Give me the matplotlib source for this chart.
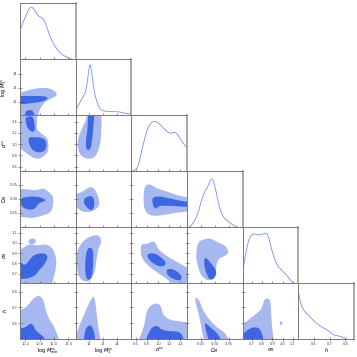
import numpy as np
import matplotlib.pyplot as plt

plt.rcParams['font.family'] = 'DejaVu Sans'
plt.rcParams['mathtext.fontset'] = 'dejavusans'

LIGHT = '#a7b8f0'
DARK = '#3d66e2'
LINE = '#7391f0'

labels = [r'$\log\,M_{\rm min}^{\rm ss}$', r'$\log\,M_1^{\rm ss}$', r'$\alpha^{\rm ss}$',
          r'$\Omega_M$', r'$\sigma_8$', r'$h$']
limits = [(10.05, 11.6), (11.05, 15.05), (0.52, 1.52), (0.20, 0.40), (0.61, 1.155), (0.50, 0.855)]
ticks = [[10.2, 10.6, 11.0, 11.4], [12, 13, 14], [0.6, 0.8, 1.0, 1.2, 1.4],
         [0.25, 0.30, 0.35], [0.7, 0.8, 0.9, 1.0, 1.1], [0.6, 0.7, 0.8]]
tick_text = [['10.2', '10.6', '11.0', '11.4'], ['12', '13', '14'],
             ['0.6', '0.8', '1.0', '1.2', '1.4'], ['0.25', '0.30', '0.35'],
             ['0.7', '0.8', '0.9', '1.0', '1.1'], ['0.6', '0.7', '0.8']]

# 1D marginals (normalised heights)
logmmin_x = [10.05, 10.2, 10.3, 10.38, 10.45, 10.55, 10.65, 10.72, 10.8, 10.9, 11.0, 11.1, 11.2, 11.3, 11.4, 11.5]
logmmin_y = [0.52, 0.75, 0.90, 0.93, 0.88, 0.77, 0.74, 0.70, 0.56, 0.38, 0.25, 0.16, 0.09, 0.05, 0.02, 0.0]
logm1_x = [11.05, 11.12, 11.48, 11.76, 11.91, 12.0, 12.07, 12.15, 12.24, 12.39, 12.67, 12.91, 13.4, 14.0, 14.3, 14.6, 14.9, 15.05]
logm1_y = [0.09, 0.12, 0.28, 0.40, 0.63, 0.82, 0.91, 0.85, 0.69, 0.40, 0.16, 0.08, 0.06, 0.06, 0.05, 0.03, 0.02, 0.02]
alpha_x = [0.52, 0.60, 0.65, 0.70, 0.79, 0.85, 0.94, 1.03, 1.11, 1.22, 1.29, 1.35, 1.44, 1.52]
alpha_y = [0.0, 0.02, 0.10, 0.34, 0.70, 0.84, 0.90, 0.84, 0.75, 0.66, 0.70, 0.66, 0.51, 0.41]
omega_x = [0.205, 0.214, 0.238, 0.256, 0.274, 0.289, 0.30, 0.315, 0.328, 0.345, 0.369, 0.381]
omega_y = [0.0, 0.01, 0.20, 0.56, 0.71, 0.90, 0.74, 0.38, 0.19, 0.11, 0.02, 0.0]
sigma8_x = [0.61, 0.639, 0.671, 0.714, 0.753, 0.792, 0.837, 0.866, 0.899, 0.948, 0.996, 1.045, 1.094, 1.11]
sigma8_y = [0.19, 0.52, 0.79, 0.89, 0.86, 0.86, 0.90, 0.82, 0.55, 0.31, 0.22, 0.13, 0.01, 0.0]
h_x = [0.50, 0.513, 0.534, 0.565, 0.608, 0.65, 0.692, 0.723, 0.766, 0.808]
h_y = [0.86, 0.65, 0.51, 0.42, 0.30, 0.21, 0.15, 0.07, 0.05, 0.0]

# 2D credible regions: outer (95%) and inner (68%) outlines, in data units
logm1_logmmin_95 = [[(9.8, 12.5), (10.105, 12.66), (10.29, 12.84), (10.47, 12.94), (10.75, 13.01),
                     (10.94, 12.89), (11.07, 12.66), (11.07, 12.41), (10.94, 12.25), (10.75, 12.0),
                     (10.66, 11.7), (10.57, 11.3), (10.55, 10.8), (9.8, 10.8)]]
logm1_logmmin_68 = [[(9.8, 12.4), (10.29, 12.41), (10.57, 12.41), (10.80, 12.37), (10.825, 12.18),
                     (10.66, 12.0), (10.38, 11.89), (10.105, 11.82), (9.8, 11.85)],
                    [(10.2, 10.8), (10.2, 11.3), (10.3, 11.42), (10.42, 11.35), (10.47, 10.8)]]
alpha_logmmin_95 = [[(9.8, 1.7), (10.52, 1.7), (10.53, 1.39), (10.50, 1.27), (10.66, 1.18),
                     (10.80, 1.12), (10.84, 1.03), (10.84, 0.88), (10.75, 0.80), (10.57, 0.73),
                     (10.40, 0.76), (10.20, 0.85), (10.05, 0.93), (9.8, 0.95)]]
alpha_logmmin_68 = [[(10.22, 1.49), (10.40, 1.50), (10.45, 1.40), (10.47, 1.27), (10.44, 1.22),
                     (10.33, 1.23), (10.25, 1.30), (10.20, 1.42)],
                    [(10.29, 1.13), (10.47, 1.12), (10.62, 1.12), (10.75, 1.08), (10.80, 1.00),
                     (10.75, 0.88), (10.62, 0.85), (10.47, 0.86), (10.35, 0.93), (10.29, 1.03)]]
omega_logmmin_95 = [[(9.8, 0.336), (10.20, 0.336), (10.47, 0.330), (10.705, 0.339), (10.80, 0.330),
                     (10.94, 0.315), (10.99, 0.30), (10.94, 0.2525), (10.66, 0.240), (10.38, 0.231),
                     (10.20, 0.2345), (9.8, 0.240)]]
omega_logmmin_68 = [[(10.10, 0.306), (10.47, 0.310), (10.705, 0.3025), (10.78, 0.293), (10.57, 0.286),
                     (10.47, 0.264), (10.29, 0.261), (10.12, 0.27), (10.05, 0.288)]]
sigma8_logmmin_95 = [[(9.8, 0.50), (9.8, 0.89), (10.10, 0.941), (10.29, 0.99), (10.57, 0.973),
                      (10.75, 0.99), (10.94, 0.957), (11.03, 0.892), (11.07, 0.811), (11.03, 0.714),
                      (10.94, 0.60), (10.84, 0.50)],
                     [(10.28, 1.02), (10.35, 1.045), (10.47, 1.04), (10.50, 1.01), (10.42, 0.985),
                      (10.30, 0.99)]]
sigma8_logmmin_68 = [[(9.8, 0.82), (10.05, 0.811), (10.20, 0.779), (10.33, 0.844), (10.47, 0.892),
                      (10.75, 0.902), (10.84, 0.86), (10.705, 0.779), (10.57, 0.73), (10.47, 0.681),
                      (10.29, 0.655), (10.10, 0.649), (9.8, 0.66)]]
h_logmmin_95 = [[(9.8, 0.45), (9.8, 0.665), (10.15, 0.69), (10.29, 0.717), (10.38, 0.749), (10.57, 0.78),
                 (10.705, 0.749), (10.75, 0.696), (10.84, 0.633), (11.03, 0.57), (11.2, 0.45)]]
h_logmmin_68 = [[(9.8, 0.45), (9.8, 0.559), (10.20, 0.57), (10.33, 0.601), (10.42, 0.59), (10.47, 0.559),
                 (10.57, 0.538), (10.75, 0.506), (10.82, 0.45)]]
alpha_logm1_95 = [[(11.9, 1.7), (12.9, 1.7), (12.9, 1.09), (12.67, 0.88), (12.43, 0.76), (11.95, 0.73),
                   (11.36, 0.79), (11.12, 1.03), (11.48, 1.27), (11.84, 1.45)]]
alpha_logm1_68 = [[(11.97, 1.7), (12.43, 1.7), (12.31, 1.27), (12.24, 1.09), (12.14, 0.91), (11.84, 0.88),
                   (11.76, 1.03), (11.91, 1.27)]]
omega_logm1_95 = [[(11.05, 0.318), (11.48, 0.324), (12.07, 0.345), (12.43, 0.336), (12.67, 0.31),
                   (12.79, 0.282), (12.55, 0.264), (12.07, 0.2525), (11.48, 0.255), (11.12, 0.27),
                   (10.9, 0.29)]]
omega_logm1_68 = [[(11.72, 0.306), (12.19, 0.312), (12.39, 0.30), (12.39, 0.27), (12.15, 0.258),
                   (11.84, 0.27), (11.6, 0.288)]]
sigma8_logm1_95 = [[(11.48, 1.006), (11.95, 1.055), (12.43, 1.077), (12.79, 1.07), (12.91, 1.006),
                    (12.67, 0.941), (12.55, 0.844), (12.43, 0.714), (12.19, 0.649), (11.84, 0.617),
                    (11.36, 0.649), (11.12, 0.746), (11.12, 0.909)]]
sigma8_logm1_68 = [[(12.0, 0.957), (12.31, 0.941), (12.31, 0.811), (12.24, 0.681), (12.0, 0.632),
                    (11.76, 0.665), (11.72, 0.811), (11.84, 0.924)]]
h_logm1_95 = [[(12.35, 0.775), (12.43, 0.749), (12.55, 0.675), (12.67, 0.57), (12.95, 0.45), (10.9, 0.45),
               (11.05, 0.506), (11.25, 0.57), (11.6, 0.644), (12.07, 0.739)]]
h_logm1_68 = [[(12.0, 0.59), (12.24, 0.58), (12.43, 0.527), (12.45, 0.45), (11.6, 0.45), (11.72, 0.559)]]
omega_alpha_95 = [[(0.758, 0.348), (0.847, 0.354), (0.996, 0.336), (1.115, 0.330), (1.354, 0.312),
                   (1.7, 0.30), (1.7, 0.258), (1.354, 0.2525), (1.115, 0.243), (0.877, 0.238),
                   (0.758, 0.258), (0.734, 0.30)]]
omega_alpha_68 = [[(0.889, 0.306), (1.026, 0.310), (1.204, 0.3025), (1.383, 0.294), (1.7, 0.285),
                   (1.7, 0.27), (1.354, 0.274), (1.204, 0.276), (1.026, 0.276), (0.954, 0.264),
                   (0.907, 0.276)]]
sigma8_alpha_95 = [[(0.699, 0.99), (0.818, 0.99), (0.907, 1.022), (0.966, 0.99), (0.996, 0.941),
                    (1.145, 0.876), (1.354, 0.811), (1.502, 0.763), (1.7, 0.75), (1.7, 0.50),
                    (1.30, 0.55), (1.234, 0.62), (1.115, 0.665), (0.936, 0.73), (0.788, 0.795),
                    (0.699, 0.86), (0.686, 0.941)]]
sigma8_alpha_68 = [[(0.788, 0.892), (0.936, 0.902), (1.056, 0.86), (1.145, 0.811), (1.115, 0.772),
                    (0.996, 0.772), (0.847, 0.827)],
                   [(1.204, 0.753), (1.324, 0.73), (1.425, 0.681), (1.413, 0.632), (1.294, 0.642),
                    (1.175, 0.681), (1.145, 0.73)]]
h_alpha_95 = [[(0.62, 0.45), (0.669, 0.506), (0.758, 0.591), (0.788, 0.675), (0.877, 0.717),
               (0.996, 0.728), (1.056, 0.707), (1.086, 0.654), (1.204, 0.622), (1.354, 0.612),
               (1.7, 0.60), (1.7, 0.45)]]
h_alpha_68 = [[(0.78, 0.45), (0.788, 0.506), (0.847, 0.549), (0.907, 0.58), (0.996, 0.584),
               (1.056, 0.559), (1.204, 0.549), (1.354, 0.549), (1.443, 0.527), (1.48, 0.45)]]
sigma8_omega_95 = [[(0.238, 1.006), (0.262, 1.038), (0.286, 1.045), (0.31, 1.006), (0.339, 0.973),
                    (0.351, 0.909), (0.339, 0.876), (0.31, 0.844), (0.304, 0.746), (0.298, 0.649),
                    (0.274, 0.632), (0.25, 0.681), (0.238, 0.779), (0.232, 0.876)]]
sigma8_omega_68 = [[(0.262, 0.86), (0.274, 0.844), (0.298, 0.763), (0.307, 0.714), (0.298, 0.649),
                    (0.28, 0.642), (0.268, 0.714), (0.262, 0.779)]]
h_omega_95 = [[(0.232, 0.764), (0.244, 0.749), (0.256, 0.686), (0.28, 0.622), (0.3095, 0.57),
               (0.339, 0.538), (0.365, 0.45), (0.265, 0.45), (0.25, 0.591), (0.24, 0.675),
               (0.228, 0.749)]]
h_omega_68 = [[(0.262, 0.61), (0.286, 0.57), (0.31, 0.538), (0.335, 0.45), (0.286, 0.45), (0.268, 0.55)]]
h_sigma8_95 = [[(0.55, 0.45), (0.55, 0.60), (0.61, 0.591), (0.688, 0.633), (0.753, 0.665), (0.802, 0.696),
                (0.818, 0.749), (0.85, 0.759), (0.882, 0.749), (0.889, 0.654), (0.899, 0.57),
                (0.92, 0.45)],
               [(0.975, 0.612), (0.99, 0.615), (1.0, 0.60), (0.99, 0.585), (0.975, 0.59)]]
h_sigma8_68 = [[(0.55, 0.45), (0.55, 0.53), (0.61, 0.527), (0.656, 0.559), (0.72, 0.576), (0.769, 0.57),
                (0.802, 0.538), (0.82, 0.45)]]

marginals = [(logmmin_x, logmmin_y), (logm1_x, logm1_y), (alpha_x, alpha_y),
             (omega_x, omega_y), (sigma8_x, sigma8_y), (h_x, h_y)]
regions = {
    (1, 0): (logm1_logmmin_95, logm1_logmmin_68),
    (2, 0): (alpha_logmmin_95, alpha_logmmin_68),
    (3, 0): (omega_logmmin_95, omega_logmmin_68),
    (4, 0): (sigma8_logmmin_95, sigma8_logmmin_68),
    (5, 0): (h_logmmin_95, h_logmmin_68),
    (2, 1): (alpha_logm1_95, alpha_logm1_68),
    (3, 1): (omega_logm1_95, omega_logm1_68),
    (4, 1): (sigma8_logm1_95, sigma8_logm1_68),
    (5, 1): (h_logm1_95, h_logm1_68),
    (3, 2): (omega_alpha_95, omega_alpha_68),
    (4, 2): (sigma8_alpha_95, sigma8_alpha_68),
    (5, 2): (h_alpha_95, h_alpha_68),
    (4, 3): (sigma8_omega_95, sigma8_omega_68),
    (5, 3): (h_omega_95, h_omega_68),
    (5, 4): (h_sigma8_95, h_sigma8_68),
}


def chaikin(pts, n=3, closed=True):
    """Corner-cutting smoothing of an outline."""
    p = np.asarray(pts, float)
    for _ in range(n):
        q = np.roll(p, -1, axis=0) if closed else p[1:]
        a = p if closed else p[:-1]
        mid = np.stack([0.75 * a + 0.25 * q, 0.25 * a + 0.75 * q], axis=1).reshape(-1, 2)
        p = mid if closed else np.vstack([p[:1], mid, p[-1:]])
    return p


N = len(labels)
fig, axes = plt.subplots(N, N, figsize=(3.57, 3.57), dpi=100)
fig.subplots_adjust(left=20 / 357, right=354 / 357, top=1 - 3 / 357, bottom=1 - 339 / 357,
                    wspace=0, hspace=0)

for i in range(N):
    for j in range(N):
        ax = axes[i, j]
        if j > i:
            ax.axis('off')
            continue
        ax.set_xlim(*limits[j])
        ax.set_xticks(ticks[j])
        ax.tick_params(direction='inout', length=2.5, width=0.4, labelsize=2.6, pad=0.6, colors='#444444')
        for s in ax.spines.values():
            s.set_linewidth(0.7)
            s.set_color('#777777')
        if i == j:
            x, y = marginals[i]
            c = chaikin(np.column_stack([x, y]), 2, closed=False)
            ax.plot(c[:, 0], c[:, 1], color=LINE, lw=0.6)
            ax.set_ylim(0, 1)
            ax.set_yticks([])
            ax.spines['right'].set_linewidth(1.2)
            ax.spines['right'].set_color('#999999')
        else:
            outer, inner = regions[(i, j)]
            for poly in outer:
                c = chaikin(poly)
                ax.fill(c[:, 0], c[:, 1], color=LIGHT, lw=0)
            for poly in inner:
                c = chaikin(poly)
                ax.fill(c[:, 0], c[:, 1], color=DARK, lw=0)
            ax.set_ylim(*limits[i])
            ax.set_yticks(ticks[i])
        if i == N - 1:
            ax.set_xticklabels(tick_text[j])
            ax.set_xlabel(labels[j], fontsize=3.6, labelpad=0.5)
        else:
            ax.set_xticklabels([])
        if j == 0 and i > 0:
            ax.set_yticklabels(tick_text[i])
            ax.set_ylabel(labels[i], fontsize=3.6)
            ax.yaxis.set_label_coords(-0.19, 0.5)
        elif i != j:
            ax.set_yticklabels([])

fig.savefig('out.png', dpi=100)
